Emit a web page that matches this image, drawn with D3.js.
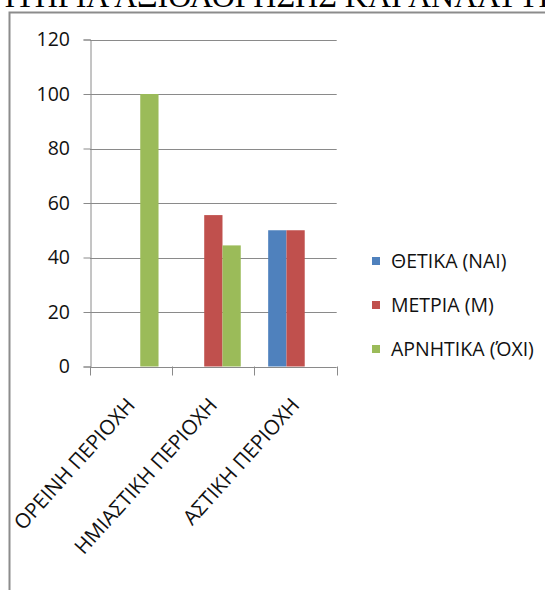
<!DOCTYPE html>
<html>
<head>
<meta charset="utf-8">
<script src="https://cdn.jsdelivr.net/npm/d3@7"></script>
<style>
  html, body { margin: 0; padding: 0; background: #fff; }
  svg { display: block; }
</style>
</head>
<body>
<svg id="chart" width="545" height="590"></svg>
<script>
// Regions (categories), response series and their values (%)
const categories = ["ΟΡΕΙΝΗ ΠΕΡΙΟΧΗ", "ΗΜΙΑΣΤΙΚΗ ΠΕΡΙΟΧΗ", "ΑΣΤΙΚΗ ΠΕΡΙΟΧΗ"];
const seriesNames = ["ΘΕΤΙΚΑ (ΝΑΙ)", "ΜΕΤΡΙΑ (Μ)", "ΑΡΝΗΤΙΚΑ (ΌΧΙ)"];
const positive = [0, 0, 50];
const moderate = [0, 55.56, 50];
const negative = [100, 44.44, 0];
const yTicks = [0, 20, 40, 60, 80, 100, 120];
const titleText = "ΚΡΙΤΗΡΙΑ ΑΞΙΟΛΟΓΗΣΗΣ ΚΑΙ ΑΝΑΛΥΤΙΚΗΣ";

const seriesValues = [positive, moderate, negative];
const colors = ["#4F81BD", "#C0504D", "#9BBB59"];
const axisColor = "#8a8a8a";
const textColor = "#111";
const font = "'Open Sans', 'Noto Sans', sans-serif";

const svg = d3.select("#chart");

// Heading above the chart frame (runs off the top edge)
const serif = "'Liberation Serif', 'Times New Roman', serif";
const probe = svg.append("text")
  .attr("font-family", serif)
  .attr("font-size", 32)
  .text("ΚΡΙΤΗΡΙΑ Α");
const prefixW = probe.node().getComputedTextLength();
probe.remove();
svg.append("text")
  .attr("x", 137 - prefixW)
  .attr("y", 7)
  .attr("font-family", serif)
  .attr("font-size", 32)
  .attr("fill", "#000")
  .text(titleText);

// Chart frame
svg.append("rect")
  .attr("x", 9.5).attr("y", 12.5)
  .attr("width", 600).attr("height", 640)
  .attr("fill", "none")
  .attr("stroke", "#8c8c8c")
  .attr("stroke-width", 2);

// Scales
const plotLeft = 90, plotRight = 336.7, plotTop = 39.5, plotBottom = 366.5;
const x0 = d3.scaleBand().domain(categories).range([plotLeft, plotRight]).padding(0);
const x1 = d3.scaleBand().domain(d3.range(seriesNames.length))
  .range([0, x0.bandwidth()]).paddingInner(0).paddingOuter(0.75);
const y = d3.scaleLinear().domain([0, 120]).range([plotBottom, plotTop]);

// Horizontal gridlines
svg.append("g").selectAll("line")
  .data(yTicks.filter(t => t > 0))
  .join("line")
  .attr("x1", plotLeft).attr("x2", plotRight)
  .attr("y1", d => Math.round(y(d)) + 0.5).attr("y2", d => Math.round(y(d)) + 0.5)
  .attr("stroke", axisColor).attr("stroke-width", 1);

// Bars
categories.forEach((cat, ci) => {
  seriesValues.forEach((vals, si) => {
    const v = vals[ci];
    if (v <= 0) return;
    svg.append("rect")
      .attr("x", x0(cat) + x1(si))
      .attr("y", y(v))
      .attr("width", x1.bandwidth())
      .attr("height", y(0) - y(v))
      .attr("fill", colors[si]);
  });
});

// Y axis
const yAxis = d3.axisLeft(y).tickValues(yTicks).tickSize(7).tickPadding(13.5).tickFormat(d3.format("d"));
const gy = svg.append("g").attr("transform", `translate(${plotLeft + 0.5},0)`).call(yAxis);
gy.select(".domain").attr("stroke", axisColor);
gy.selectAll(".tick line").attr("stroke", axisColor);
gy.selectAll(".tick text")
  .attr("font-family", font).attr("font-size", 19.5).attr("fill", textColor);

// X axis line with category boundary ticks
const gx = svg.append("g");
gx.append("line")
  .attr("x1", plotLeft).attr("x2", plotRight)
  .attr("y1", Math.round(y(0)) + 0.5).attr("y2", Math.round(y(0)) + 0.5)
  .attr("stroke", axisColor);
const bounds = categories.map(c => x0(c)).concat([plotRight]);
gx.selectAll("line.tk").data(bounds).join("line")
  .attr("class", "tk")
  .attr("x1", d => Math.round(d) + 0.5).attr("x2", d => Math.round(d) + 0.5)
  .attr("y1", y(0)).attr("y2", y(0) + 9)
  .attr("stroke", axisColor);

// Rotated category labels
gx.selectAll("text").data(categories).join("text")
  .attr("transform", d => `translate(${x0(d) + x0.bandwidth() / 2 + 5},406) rotate(-48)`)
  .attr("text-anchor", "end")
  .attr("font-family", font).attr("font-size", 20.5).attr("fill", textColor)
  .text(d => d);

// Legend
const legendY = [261, 305, 349];
const lg = svg.append("g");
seriesNames.forEach((name, i) => {
  lg.append("rect")
    .attr("x", 372).attr("y", legendY[i] - 4)
    .attr("width", 8).attr("height", 8)
    .attr("fill", colors[i]);
  lg.append("text")
    .attr("x", 391).attr("y", legendY[i])
    .attr("dy", "0.35em")
    .attr("font-family", font).attr("font-size", 19.5).attr("fill", textColor)
    .text(name);
});
</script>
</body>
</html>
